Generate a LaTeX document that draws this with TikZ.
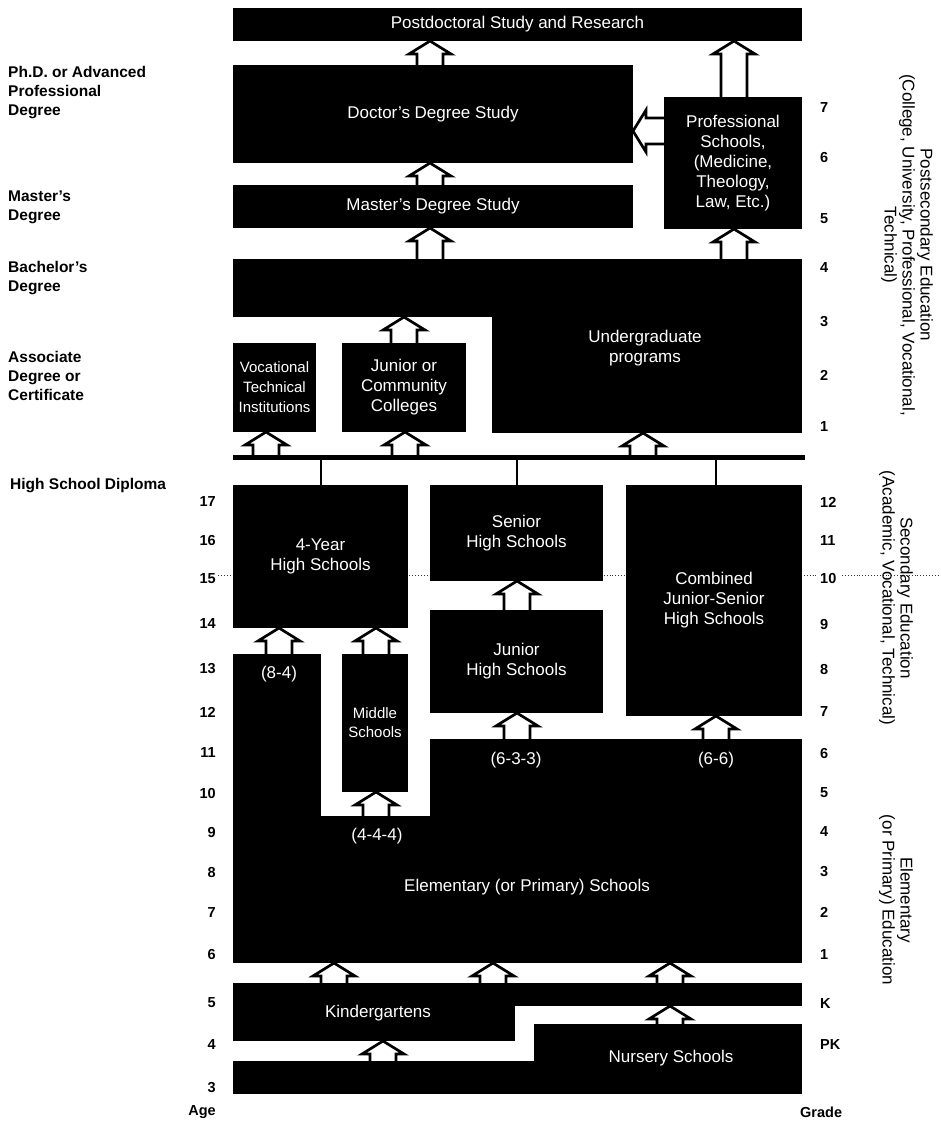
\documentclass[tikz,border=0pt]{standalone}
\usepackage{fontspec}
\setmainfont{Liberation Sans}
\usetikzlibrary{calc}
\begin{document}
\begin{tikzpicture}[x=1pt,y=-1pt,
  rect/.style={fill=black, text=white, draw=none, inner sep=0pt, outer sep=0pt, anchor=north west, align=center, font=\fontsize{17}{20}\selectfont},
  wt/.style={text=white, inner sep=0pt, align=center, font=\fontsize{17}{20}\selectfont},
  lbl/.style={inner sep=0pt, anchor=west, align=left, font=\fontsize{15.5}{19}\selectfont\bfseries},
  agenum/.style={inner sep=0pt, anchor=east, font=\fontsize{14.5}{17}\selectfont\bfseries},
  grnum/.style={inner sep=0pt, anchor=west, font=\fontsize{14.5}{17}\selectfont\bfseries},
  side/.style={inner sep=0pt, rotate=-90, align=center, font=\fontsize{17}{18}\selectfont},
  conn/.style={line width=2pt},
  openarr/.style={line width=2.7pt, line join=miter,
    to path={let \p1=(\tikztostart), \p2=(\tikztotarget), \n1={atan2(\y2-\y1,\x2-\x1)} in
      ($(\p1)+(\n1+90:13pt)$) -- ($(\p2)+(\n1+180:13pt)+(\n1+90:13pt)$)
      -- ($(\p2)+(\n1+180:13pt)+(\n1+90:21pt)$) -- (\p2)
      -- ($(\p2)+(\n1+180:13pt)+(\n1-90:21pt)$) -- ($(\p2)+(\n1+180:13pt)+(\n1-90:13pt)$)
      -- ($(\p1)+(\n1-90:13pt)$)}},
]
\useasboundingbox (0,0) rectangle (941,1122);
\fill[white] (0,0) rectangle (941,1122);

% column / row reference coordinates
\foreach \c in {266,279,321,334,376,383,404,405,430,493,517,643,670,716,734}
  \coordinate (c\c) at (\c,0);
\coordinate (r131) at (0,131);

% faint crease line at grade 10
\draw[dotted, line width=0.9pt, black!80] (218,575) -- (816,575) (842,575) -- (941,575);

% ---------- postsecondary ----------
\node[rect, minimum width=569, minimum height=33] (postdoc) at (233,8) {Postdoctoral Study and Research};
\node[rect, minimum width=400, minimum height=98] (doctor) at (233,65) {Doctor’s Degree Study};
\node[rect, minimum width=138, minimum height=132] (prof) at (664,97) {Professional\\Schools,\\(Medicine,\\Theology,\\Law, Etc.)};
\node[rect, minimum width=400, minimum height=43] (master) at (233,185) {Master’s Degree Study};
\node[rect, minimum width=569, minimum height=58] (ugbar) at (233,259) {};
\node[rect, minimum width=310, minimum height=116] (ugblock) at (492,317) {};
\node[wt] (ugtext) at (645,348) {Undergraduate\\programs};
\node[rect, minimum width=83, minimum height=89, font=\fontsize{15}{20}\selectfont] (voc) at (233,343) {Vocational\\Technical\\Institutions};
\node[rect, minimum width=124, minimum height=89] (jcol) at (342,343) {Junior or\\Community\\Colleges};
\node[rect, minimum width=572, minimum height=4.5] (hsbar) at (233,455) {};

% ---------- secondary ----------
\node[rect, minimum width=175, minimum height=143] (fouryr) at (233,485) {4-Year\\High Schools};
\node[rect, minimum width=173, minimum height=96] (senior) at (430,485) {Senior\\High Schools};
\node[rect, minimum width=176, minimum height=231] (combined) at (626,485) {Combined\\Junior-Senior\\High Schools};
\node[rect, minimum width=173, minimum height=103] (juniorhs) at (430,610) {Junior\\High Schools};
\node[rect, minimum width=66, minimum height=138, font=\fontsize{15}{19}\selectfont] (middle) at (342,654) {Middle\\Schools};

% ---------- elementary ----------
\node[rect, minimum width=88, minimum height=309] (elcol) at (233,654) {};
\node[rect, minimum width=569, minimum height=147] (elbase) at (233,816) {};
\node[rect, minimum width=372, minimum height=224] (elright) at (430,739) {};
\node[wt] (t84) at (279,674) {(8-4)};
\node[wt] (t444) at (377,836) {(4-4-4)};
\node[wt] (t633) at (516,760) {(6-3-3)};
\node[wt] (t66) at (716,760) {(6-6)};
\node[wt] (eltext) at (527,887) {Elementary (or Primary) Schools};

% ---------- pre-primary ----------
\node[rect, minimum width=569, minimum height=23] (kbar) at (233,983) {};
\node[rect, minimum width=282, minimum height=58] (kleft) at (233,983) {};
\node[wt] (ktext) at (378,1013) {Kindergartens};
\node[rect, minimum width=268, minimum height=70] (nursery) at (534,1024) {};
\node[rect, minimum width=569, minimum height=33] (nbar) at (233,1061) {};
\node[wt] (ntext) at (671,1058) {Nursery Schools};

% ---------- arrows ----------
\draw[openarr] (c430 |- doctor.north) to (c430 |- postdoc.south);
\draw[openarr] (c430 |- master.north) to (c430 |- doctor.south);
\draw[openarr] (c430 |- ugbar.north) to (c430 |- master.south);
\draw[openarr] (c734 |- ugbar.north) to (c734 |- prof.south);
\draw[openarr] (c734 |- prof.north) to (c734 |- postdoc.south);
\draw[openarr] (prof.west |- r131) to (doctor.east |- r131);
\draw[openarr] (c404 |- jcol.north) to (c404 |- ugbar.south);
\draw[openarr] (c266 |- hsbar.north) to (c266 |- voc.south);
\draw[openarr] (c405 |- hsbar.north) to (c405 |- jcol.south);
\draw[openarr] (c643 |- hsbar.north) to (c643 |- ugblock.south);
\draw[conn] (c321 |- hsbar.south) -- (c321 |- fouryr.north);
\draw[conn] (c517 |- hsbar.south) -- (c517 |- senior.north);
\draw[conn] (c716 |- hsbar.south) -- (c716 |- combined.north);
\draw[openarr] (c279 |- elcol.north) to (c279 |- fouryr.south);
\draw[openarr] (c376 |- middle.north) to (c376 |- fouryr.south);
\draw[openarr] (c517 |- juniorhs.north) to (c517 |- senior.south);
\draw[openarr] (c517 |- elright.north) to (c517 |- juniorhs.south);
\draw[openarr] (c716 |- elright.north) to (c716 |- combined.south);
\draw[openarr] (c376 |- elbase.north) to (c376 |- middle.south);
\foreach \c in {c334,c493,c670}
  \draw[openarr] (\c |- kbar.north) to (\c |- elbase.south);
\draw[openarr] (c670 |- nursery.north) to (c670 |- kbar.south);
\draw[openarr] (c383 |- nbar.north) to (c383 |- kleft.south);

% ---------- left labels ----------
\node[lbl] (phd) at (8,93) {Ph.D. or Advanced\\Professional\\Degree};
\node[lbl] (msd) at (8,207) {Master’s\\Degree};
\node[lbl] (bad) at (8,278) {Bachelor’s\\Degree};
\node[lbl] (asd) at (8,376) {Associate\\Degree or\\Certificate};
\node[lbl] (hsd) at (10,486) {High School Diploma};

% ---------- ages ----------
\foreach \a/\yy in {17/502,16/541,15/579,14/624,13/669,12/712,11/753,10/793,9/832,8/872,7/912,6/954,5/1003,4/1044,3/1088}
  \node[agenum] (age\a) at (216,\yy) {\a};
\node[agenum] (agehead) at (216,1112) {Age};

% ---------- grades ----------
\foreach \g/\yy in {7/108,6/158,5/219,4/268,3/322,2/375,1/427}
  \node[grnum] (ps\g) at (820,\yy) {\g};
\foreach \g/\yy in {12/502,11/541,10/579,9/624,8/669,7/712,6/753,5/793,4/832,3/872,2/912,1/954,K/1003,PK/1044}
  \node[grnum] (gr\g) at (820,\yy) {\g};
\node[grnum] (gradehead) at (800,1112) {Grade};

% ---------- side labels ----------
\node[side] (pslbl) at (907,245) {Postsecondary Education\\(College, University, Professional, Vocational,\\Technical)};
\node[side] (seclbl) at (896,598) {Secondary Education\\(Academic, Vocational, Technical)};
\node[side] (ellbl) at (896,900) {Elementary\\(or Primary) Education};
\end{tikzpicture}
\end{document}
